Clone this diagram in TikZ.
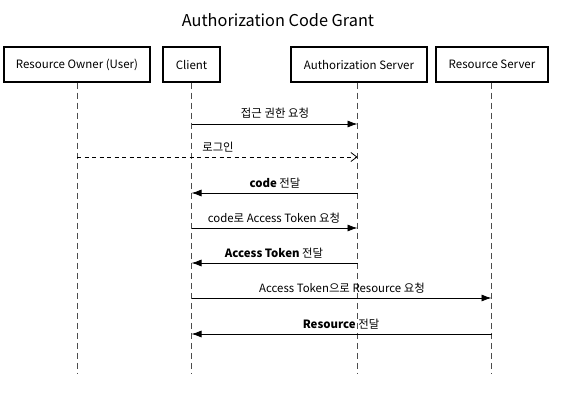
\documentclass[tikz,border=0pt]{standalone}
\usepackage{fontspec}
\setmainfont{Noto Sans CJK KR}
\usetikzlibrary{arrows.meta}

\tikzset{
	actor/.style={draw, line width=1.5pt, minimum height=35pt, inner sep=0pt, font=\fontsize{11.5}{13}\selectfont},
	lifeline/.style={black!70, line width=0.9pt, dash pattern=on 6pt off 4pt},
	msg/.style={line width=0.8pt, -{Latex[length=10pt,width=7pt]}},
	reply/.style={line width=0.8pt, dash pattern=on 4pt off 3.5pt, -{Straight Barb[length=6pt,width=9pt]}},
	msglabel/.style={font=\fontsize{11.4}{13}\selectfont, inner sep=0pt}
}

\begin{document}
\begin{tikzpicture}[x=1pt, y=-1pt]
			%%%%% START %%%%%
			\useasboundingbox (0, 0) rectangle (570, 409);
			
			\node[font=\fontsize{16.3}{19}\selectfont] (title) at (278, 20) {Authorization Code Grant};
			
			\node[actor, minimum width=146pt] (owner) at (77, 64.5) {Resource Owner (User)};
			\node[actor, minimum width=57pt] (client) at (191.5, 64.5) {Client};
			\node[actor, minimum width=136pt] (authsrv) at (359, 64.5) {Authorization Server};
			\node[actor, minimum width=112pt] (ressrv) at (492, 64.5) {Resource Server};
			
			\coordinate (ownerEnd) at (77, 374);
			\coordinate (clientEnd) at (191.5, 374);
			\coordinate (authEnd) at (357.5, 374);
			\coordinate (resEnd) at (491.5, 374);
			
			\draw[lifeline] (owner.south) -- (ownerEnd);
			\draw[lifeline] (client.south) -- (clientEnd);
			\draw[lifeline] (authsrv.south -| authEnd) -- (authEnd);
			\draw[lifeline] (ressrv.south -| resEnd) -- (resEnd);
			
			% messages
			\coordinate (c1) at (191.5, 124);  \coordinate (a1) at (357.5, 124);
			\coordinate (o2) at (77, 157);     \coordinate (a2) at (357.5, 157);
			\coordinate (c3) at (191.5, 193);  \coordinate (a3) at (357.5, 193);
			\coordinate (c4) at (191.5, 228);  \coordinate (a4) at (357.5, 228);
			\coordinate (c5) at (191.5, 263);  \coordinate (a5) at (357.5, 263);
			\coordinate (c6) at (191.5, 298);  \coordinate (r6) at (491.5, 298);
			\coordinate (c7) at (191.5, 334);  \coordinate (r7) at (491.5, 334);
			
			\draw[msg] (c1) -- (a1);
			\node[msglabel] (l1) at (275, 113) {접근 권한 요청};
			
			\draw[reply] (o2) -- (a2);
			\node[msglabel] (l2) at (218, 147) {로그인};
			
			\draw[msg] (a3) -- (c3);
			\node[msglabel] (l3) at (275, 183) {\textbf{code} 전달};
			
			\draw[msg] (c4) -- (a4);
			\node[msglabel] (l4) at (274, 218) {code로 Access Token 요청};
			
			\draw[msg] (a5) -- (c5);
			\node[msglabel] (l5) at (274, 253) {\textbf{Access Token} 전달};
			
			\draw[msg] (c6) -- (r6);
			\node[msglabel] (l6) at (342, 288) {Access Token으로 Resource 요청};
			
			\draw[msg] (r7) -- (c7);
			\node[msglabel] (l7) at (341, 324) {\textbf{Resource} 전달};
			
			%%%%% END %%%%%
\end{tikzpicture}
\end{document}
